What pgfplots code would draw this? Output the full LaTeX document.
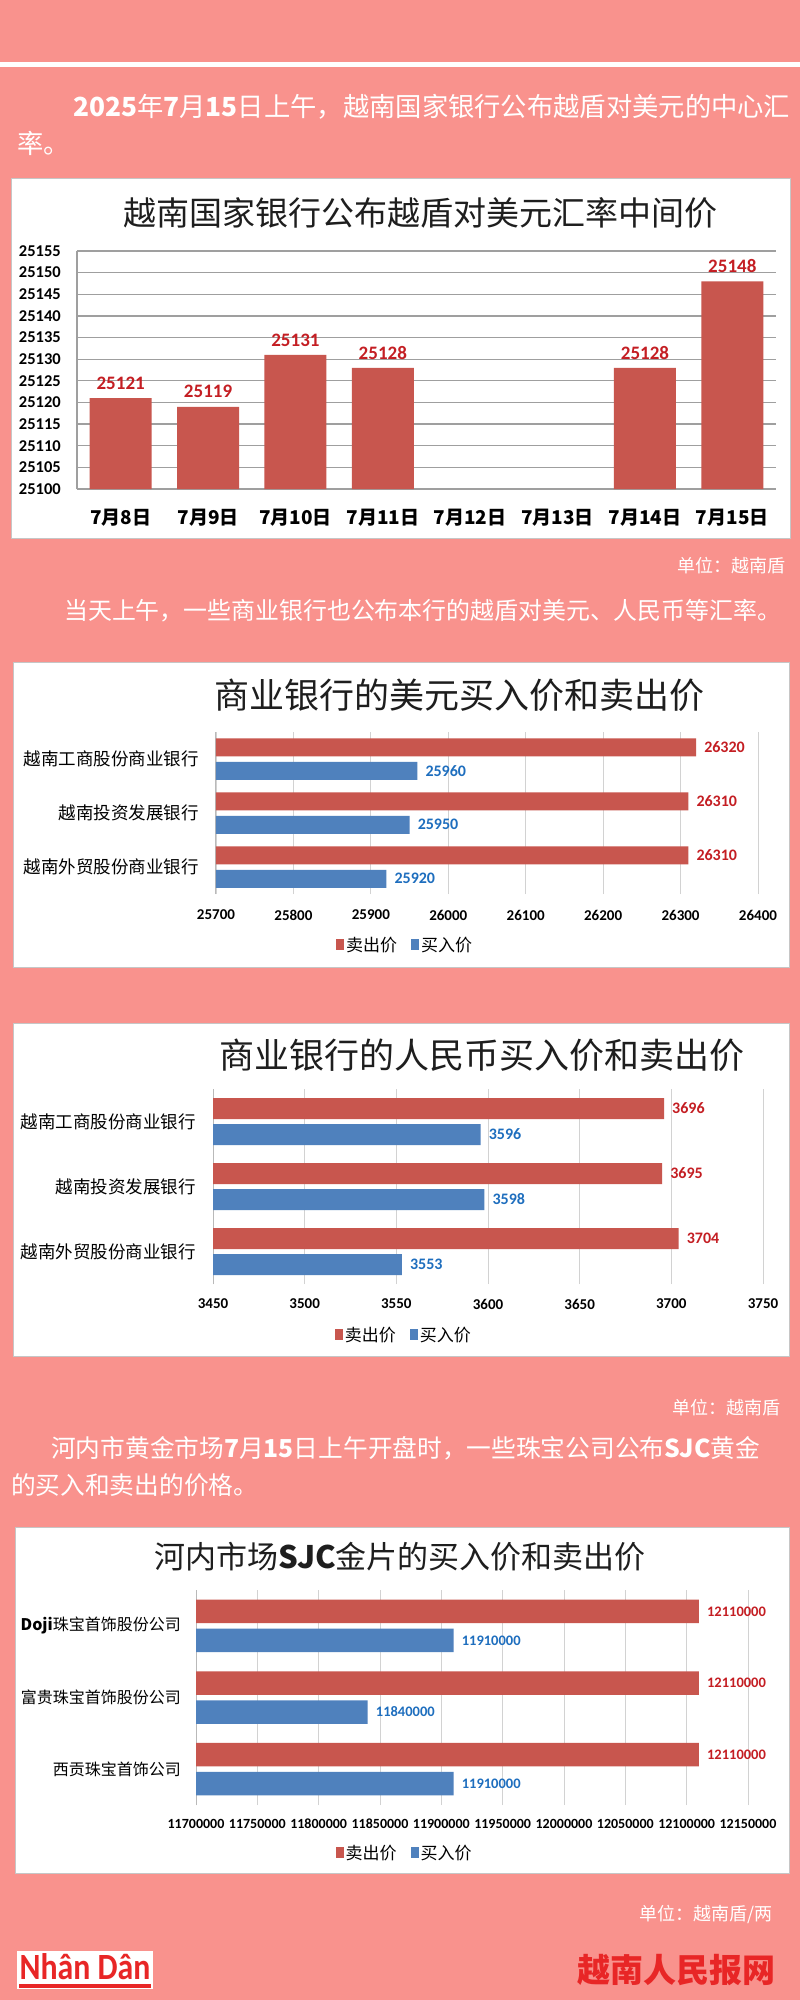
\documentclass[border=0pt]{standalone}
\usepackage{pgfplots}
\pgfplotsset{compat=1.18}
\usepackage{pgfplotstable}
\usepackage{graphicx}
\usepackage{fontspec}
\setmainfont{Noto Sans CJK SC}
\newfontfamily\cjk{Noto Sans CJK SC}
\newfontfamily\carl{Carlito}

\definecolor{bgpink}{RGB}{249,146,141}
\definecolor{barred}{RGB}{200,86,78}
\definecolor{barblue}{RGB}{79,129,189}
\definecolor{lblred}{RGB}{196,30,35}
\definecolor{lblblue}{RGB}{30,110,190}
\definecolor{logored}{RGB}{232,38,38}
\definecolor{titlec}{RGB}{30,30,30}

\newcommand{\fs}[1]{\fontsize{#1}{#1}\selectfont}

\pgfplotstableread{
x v
0 25121
1 25119
2 25131
3 25128
6 25128
7 25148
}\midrate

\pgfplotstableread{
y sell buy
2 26320 25960
1 26310 25950
0 26310 25920
}\usdtab

\pgfplotstableread{
y sell buy
2 3696 3596
1 3695 3598
0 3704 3553
}\cnytab

\pgfplotstableread{
y sell buy
2 12110000 11910000
1 12110000 11840000
0 12110000 11910000
}\goldtab

\pgfplotsset{
  hbar/.style={
    scale only axis, anchor=south west, clip=false,
    ymin=-0.5, ymax=2.5, ytick={0,1,2},
    axis lines*=left, x axis line style={draw=none},
    y axis line style={draw=gray!55, line width=1pt},
    xmajorgrids, major grid style={draw=gray!35, line width=0.9pt},
    major tick length=0pt, scaled x ticks=false,
    xticklabel style={font=\carl\bfseries\fs{15}, anchor=center, inner sep=0pt},
    yticklabel style={font=\cjk\fs{17.5}, anchor=east, inner sep=0pt},
    nodes near coords, point meta=explicit symbolic,
    every node near coord/.append style={font=\carl\bfseries\fs{16}, anchor=west, inner sep=0pt, xshift=8pt},
    legend columns=2,
    legend style={anchor=center, draw=none, fill=none, font=\cjk\fs{17},
      /tikz/every even column/.append style={column sep=12pt}},
  },
  redleg/.style={legend image code/.code={\fill[barred] (0pt,-5pt) rectangle (8pt,6pt);}},
  blueleg/.style={legend image code/.code={\fill[barblue] (0pt,-5pt) rectangle (8pt,6pt);}},
}

\begin{document}
\begin{tikzpicture}
\useasboundingbox (0,0) rectangle (800pt,-2000pt);
\fill[bgpink] (0,0) rectangle (800pt,-2000pt);
\fill[white] (0,-62pt) rectangle (800pt,-67pt);

% paragraph 1
\node[anchor=west, inner sep=0pt, text=white, font=\fs{26.3}] at (73pt,-107pt)
  {\textbf{2025}年\textbf{7}月\textbf{15}日上午，越南国家银行公布越盾对美元的中心汇};
\node[anchor=west, inner sep=0pt, text=white, font=\fs{26.3}] at (17pt,-143pt) {率。};

% ---------- chart 1 ----------
\filldraw[fill=white, draw=gray!45, line width=1pt] (11pt,-178pt) rectangle (790pt,-538pt);
\node[text=titlec, font=\fs{33}] at (420pt,-213pt) {越南国家银行公布越盾对美元汇率中间价};
\begin{axis}[
  at={(77pt,-489pt)}, anchor=south west, scale only axis,
  width=699pt, height=238pt, clip=false,
  xmin=-0.5, xmax=7.5, ymin=0, ymax=55,
  xtick={0,...,7},
  xticklabels={7月8日,7月9日,7月10日,7月11日,7月12日,7月13日,7月14日,7月15日},
  ytick={0,5,...,55},
  yticklabels={25100,25105,25110,25115,25120,25125,25130,25135,25140,25145,25150,25155},
  axis lines*=left, axis line style={draw=gray!75, line width=1.2pt},
  ymajorgrids, major grid style={draw=gray!75, line width=1.2pt},
  major tick length=0pt,
  xticklabel style={font=\cjk\bfseries\fs{19}, anchor=center, inner sep=0pt, yshift=-29pt},
  yticklabel style={font=\carl\bfseries\fs{16.5}, anchor=east, inner sep=0pt, xshift=-16pt},
  nodes near coords, point meta=explicit symbolic,
  every node near coord/.append style={font=\carl\bfseries\fs{19}, text=lblred, anchor=center, inner sep=0pt, yshift=15pt},
]
\addplot[ybar, bar width=62pt, bar shift=0pt, fill=barred, draw=none]
  table[x=x, y expr=\thisrow{v}-25100, meta=v]{\midrate};
\end{axis}
\node[anchor=east, inner sep=0pt, text=white, font=\fs{18}] at (786pt,-566pt) {单位：越南盾};

% paragraph 2
\node[anchor=west, inner sep=0pt, text=white, font=\fs{23.9}] at (64pt,-611pt)
  {当天上午，一些商业银行也公布本行的越盾对美元、人民币等汇率。};

% ---------- chart 2 (USD) ----------
\filldraw[fill=white, draw=gray!45, line width=1pt] (13pt,-662pt) rectangle (789pt,-967pt);
\node[text=titlec, font=\fs{35}] at (459pt,-695pt) {商业银行的美元买入价和卖出价};
\begin{axis}[hbar,
  at={(216pt,-894pt)}, width=542pt, height=162pt,
  xmin=0, xmax=700, xtick={0,100,...,700},
  xticklabels={25700,25800,25900,26000,26100,26200,26300,26400},
  yticklabels={越南外贸股份商业银行,越南投资发展银行,越南工商股份商业银行},
  xticklabel style={yshift=-21pt}, yticklabel style={xshift=-17pt},
  legend style={at={(0.349,-0.315)}},
]
\addplot[xbar, bar width=18pt, bar shift=11.75pt, fill=barred, draw=none,
  nodes near coords style={text=lblred, yshift=11.75pt}, redleg]
  table[y=y, x expr=\thisrow{sell}-25700, meta=sell]{\usdtab};
\addplot[xbar, bar width=18pt, bar shift=-11.75pt, fill=barblue, draw=none,
  nodes near coords style={text=lblblue, yshift=-11.75pt}, blueleg]
  table[y=y, x expr=\thisrow{buy}-25700, meta=buy]{\usdtab};
\legend{卖出价,买入价}
\end{axis}

% ---------- chart 3 (CNY) ----------
\filldraw[fill=white, draw=gray!45, line width=1pt] (13pt,-1023pt) rectangle (789pt,-1356pt);
\node[text=titlec, font=\fs{35}] at (482pt,-1055pt) {商业银行的人民币买入价和卖出价};
\begin{axis}[hbar,
  at={(213pt,-1284pt)}, width=550pt, height=195pt,
  xmin=0, xmax=300, xtick={0,50,...,300},
  xticklabels={3450,3500,3550,3600,3650,3700,3750},
  yticklabels={越南外贸股份商业银行,越南投资发展银行,越南工商股份商业银行},
  xticklabel style={yshift=-20pt}, yticklabel style={xshift=-17pt},
  legend style={at={(0.347,-0.262)}},
]
\addplot[xbar, bar width=21pt, bar shift=13pt, fill=barred, draw=none,
  nodes near coords style={text=lblred, yshift=13pt}, redleg]
  table[y=y, x expr=\thisrow{sell}-3450, meta=sell]{\cnytab};
\addplot[xbar, bar width=21pt, bar shift=-13pt, fill=barblue, draw=none,
  nodes near coords style={text=lblblue, yshift=-13pt}, blueleg]
  table[y=y, x expr=\thisrow{buy}-3450, meta=buy]{\cnytab};
\legend{卖出价,买入价}
\end{axis}

\node[anchor=east, inner sep=0pt, text=white, font=\fs{18}] at (781pt,-1408pt) {单位：越南盾};

% paragraph 3
\node[anchor=west, inner sep=0pt, text=white, font=\fs{24.7}] at (51pt,-1448pt)
  {河内市黄金市场\textbf{7}月\textbf{15}日上午开盘时，一些珠宝公司公布\textbf{SJC}黄金};
\node[anchor=west, inner sep=0pt, text=white, font=\fs{24.7}] at (11pt,-1485pt) {的买入和卖出的价格。};

% ---------- chart 4 (gold) ----------
\filldraw[fill=white, draw=gray!45, line width=1pt] (15pt,-1527pt) rectangle (789pt,-1873pt);
\node[text=titlec, font=\fs{31}] at (400pt,-1557pt) {河内市场\textbf{SJC}金片的买入价和卖出价};
\begin{axis}[hbar,
  at={(196pt,-1805pt)}, width=552pt, height=215pt,
  xmin=0, xmax=450000, xtick={0,50000,...,450000},
  xticklabels={11700000,11750000,11800000,11850000,11900000,11950000,12000000,12050000,12100000,12150000},
  yticklabels={西贡珠宝首饰公司,富贵珠宝首饰股份公司,\textbf{Doji}珠宝首饰股份公司},
  xticklabel style={yshift=-19pt, font=\carl\bfseries\fs{14}},
  yticklabel style={xshift=-15pt, font=\cjk\fs{16}},
  every node near coord/.append style={font=\carl\bfseries\fs{14.5}},
  legend style={at={(0.378,-0.223)}},
]
\addplot[xbar, bar width=23.5pt, bar shift=14.5pt, fill=barred, draw=none,
  nodes near coords style={text=lblred, yshift=14.5pt}, redleg]
  table[y=y, x expr=\thisrow{sell}-11700000, meta=sell]{\goldtab};
\addplot[xbar, bar width=23.5pt, bar shift=-14.5pt, fill=barblue, draw=none,
  nodes near coords style={text=lblblue, yshift=-14.5pt}, blueleg]
  table[y=y, x expr=\thisrow{buy}-11700000, meta=buy]{\goldtab};
\legend{卖出价,买入价}
\end{axis}

\node[anchor=east, inner sep=0pt, text=white, font=\fs{18}] at (773pt,-1914pt) {单位：越南盾/两};

% footer
\fill[white] (17pt,-1951pt) rectangle (153pt,-1989pt);
\fill[logored] (19pt,-1984pt) rectangle (151pt,-1988pt);
\node[anchor=base, inner sep=0pt, text=logored, font=\carl\bfseries\fs{37}] at (85pt,-1979pt)
  {\scalebox{0.86}[1]{Nhân Dân}};
\node[anchor=east, inner sep=0pt, text=logored, font=\bfseries\fs{33}] at (776pt,-1970pt) {越南人民报网};
\end{tikzpicture}
\end{document}
